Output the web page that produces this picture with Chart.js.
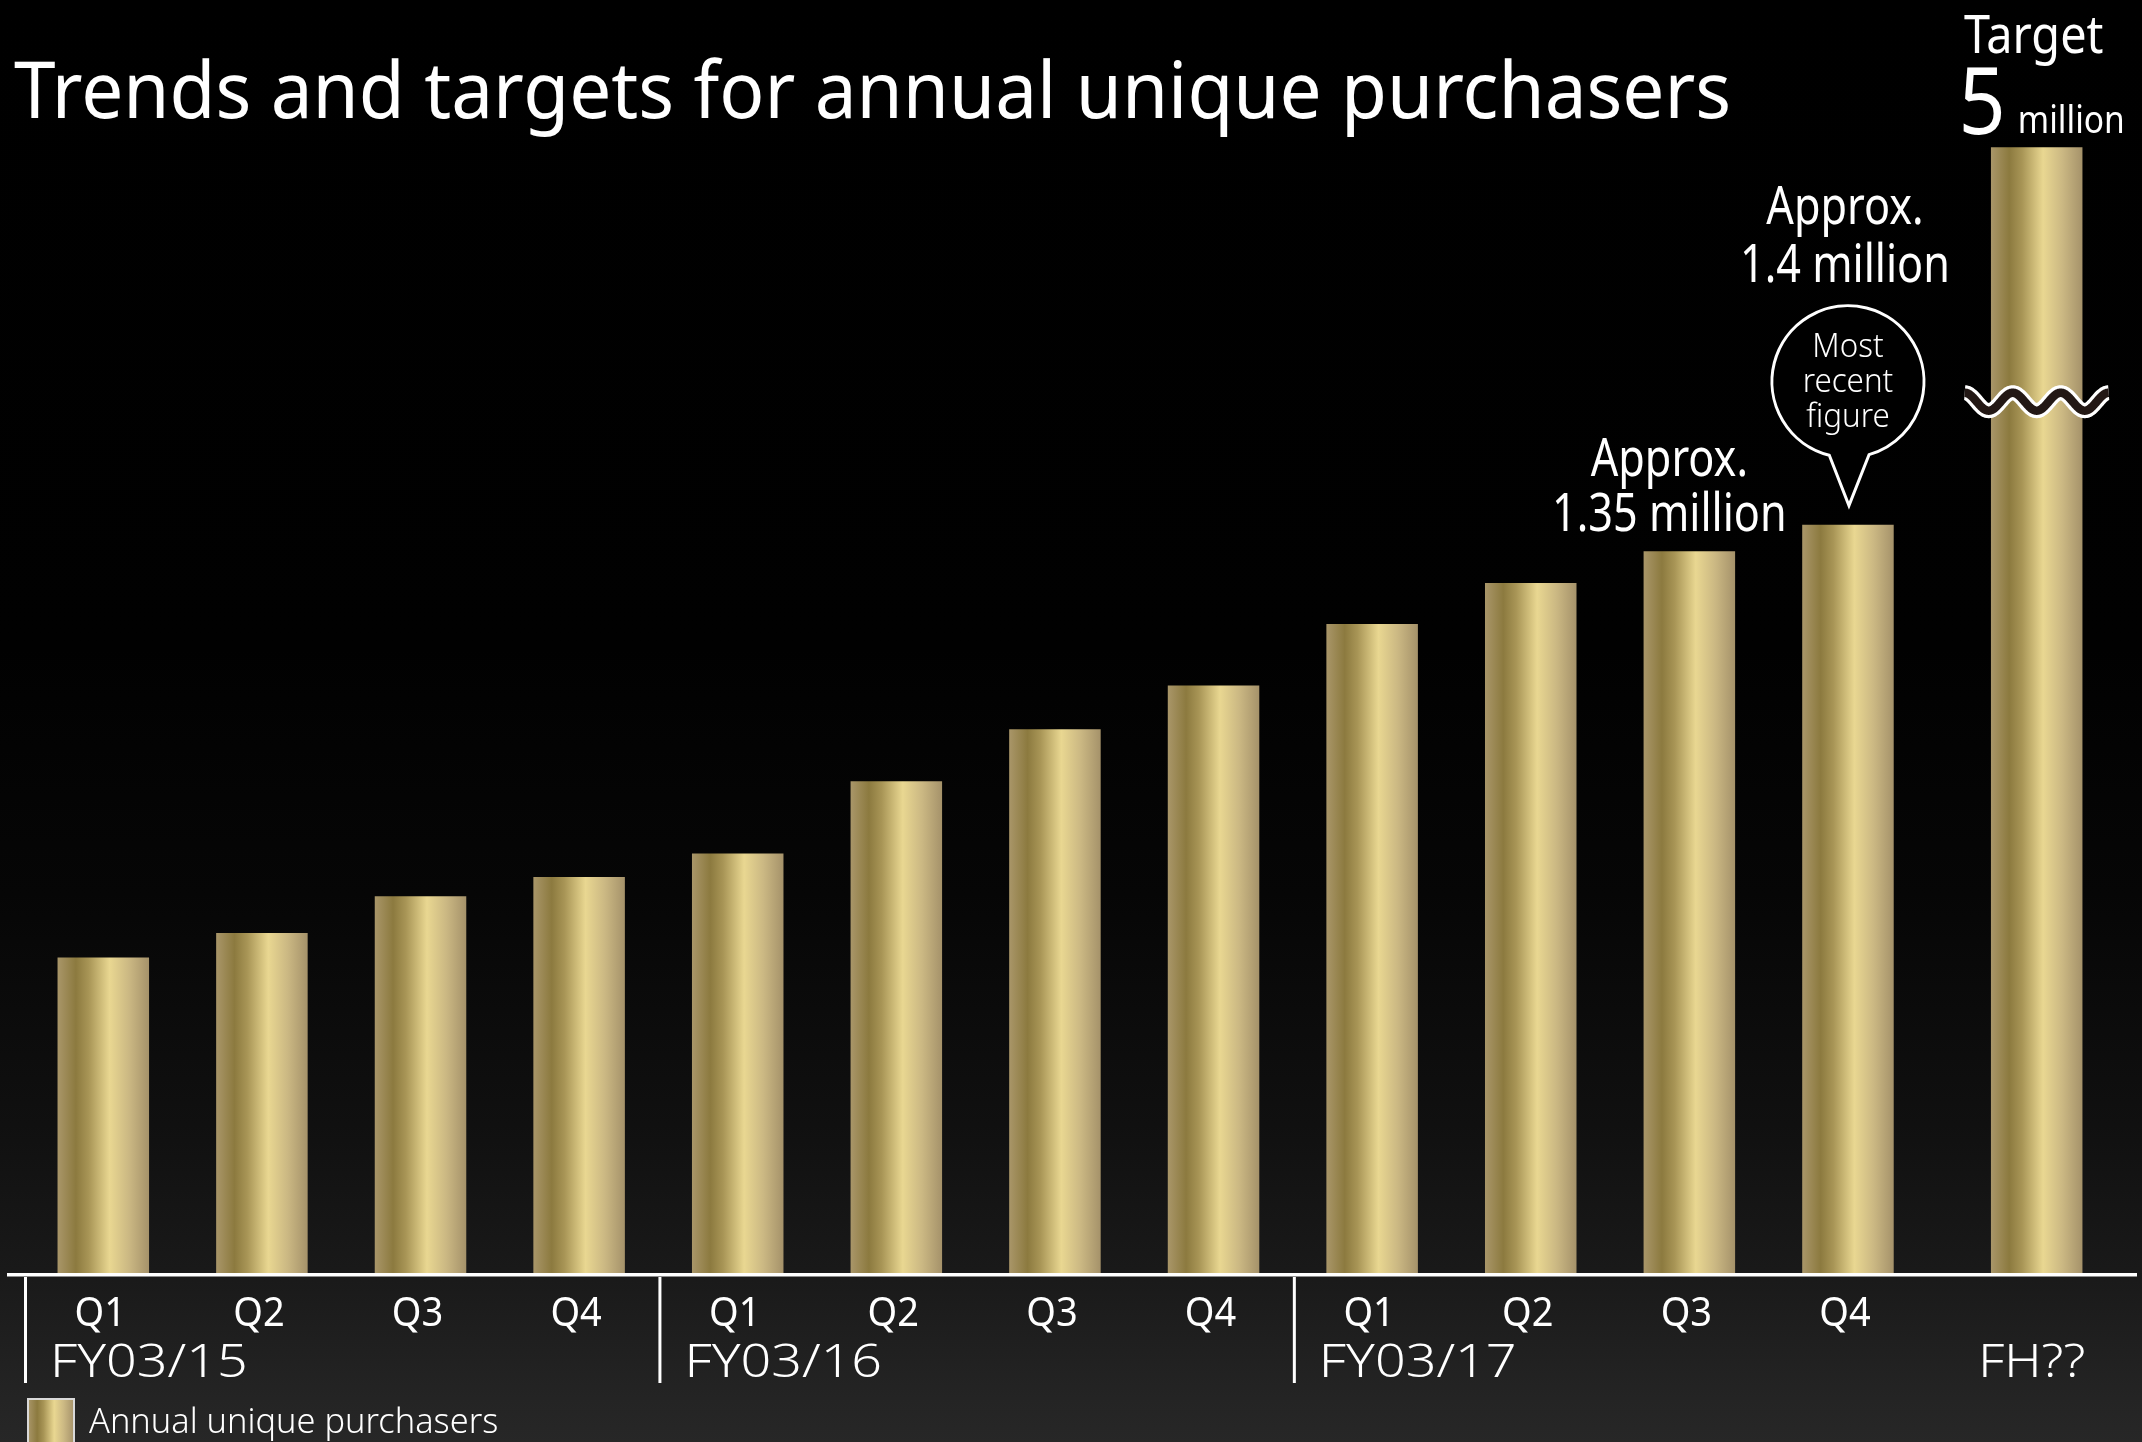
<!DOCTYPE html>
<html>
<head>
<meta charset="utf-8">
<title>Annual unique purchasers</title>
<script src="https://cdn.jsdelivr.net/npm/chart.js@4.4.1/dist/chart.umd.min.js"></script>
<style>
  html, body { margin: 0; padding: 0; background: #000; overflow: hidden; }
  #wrap { width: 2142px; height: 1442px; position: relative; }
  canvas { display: block; }
</style>
</head>
<body>
<div id="wrap"><canvas id="chart" width="2142" height="1442"></canvas></div>
<script>
// ---- data -------------------------------------------------------------
const titleText = 'Trends and targets for annual unique purchasers';
const seriesName = 'Annual unique purchasers';
const quarterLabels = ['Q1', 'Q2', 'Q3', 'Q4', 'Q1', 'Q2', 'Q3', 'Q4', 'Q1', 'Q2', 'Q3', 'Q4'];
const fiscalYears = ['FY03/15', 'FY03/16', 'FY03/17'];
const fiscalYearFirstQuarter = [0, 4, 8];
const targetPeriod = 'FH??';
// annual unique purchasers, in millions
const quarterlyPurchasers = [0.59, 0.636, 0.705, 0.741, 0.785, 0.92, 1.017, 1.099, 1.214, 1.291, 1.35, 1.4];
const targetPurchasers = 5;
const callout135 = ['Approx.', '1.35 million'];
const callout140 = ['Approx.', '1.4 million'];
const bubbleLines = ['Most', 'recent', 'figure'];
const targetHead = 'Target';
const targetNumber = '5';
const targetUnit = 'million';

// ---- styling / layout ---------------------------------------------------
const FONT = '"Noto Sans", "Open Sans", sans-serif';
const BAR_PCT = 0.577;
const TARGET_GAP = 0.19;            // extra space (in categories) before the target bar
const AXIS_BREAK = { at: 1.63, squeeze: 0.1412 };   // value where the axis is broken, compression above it
const GOLD_STOPS = [[0, '#a99669'], [0.2, '#8c7a3f'], [0.34, '#a89556'], [0.57, '#e9d791'], [0.78, '#cbb883'], [1, '#a5926a']];

function foldValue(v) {
  return v <= AXIS_BREAK.at ? v : AXIS_BREAK.at + (v - AXIS_BREAK.at) * AXIS_BREAK.squeeze;
}

// value axis with a break: everything above AXIS_BREAK.at is compressed
class BrokenLinearScale extends Chart.LinearScale {
  static id = 'brokenLinear';
  getPixelForValue(value) {
    return super.getPixelForValue(value === null || value === undefined ? value : foldValue(value));
  }
}

// category axis that leaves a little extra room before the last (target) category
class GappedCategoryScale extends Chart.CategoryScale {
  static id = 'gappedCategory';
  buildTicks() {
    const ticks = super.buildTicks();
    this._valueRange += TARGET_GAP;
    return ticks;
  }
  getPixelForValue(value) {
    if (typeof value !== 'number') value = this.parse(value);
    if (value === null || value === undefined) return NaN;
    const lastIndex = this.getLabels().length - 1;
    const shifted = value >= lastIndex ? value + TARGET_GAP : value;
    return this.getPixelForDecimal((shifted - this._startValue) / this._valueRange);
  }
}
Chart.register(BrokenLinearScale, GappedCategoryScale);

function goldGradient(ctx, x0, x1) {
  const g = ctx.createLinearGradient(x0, 0, x1, 0);
  GOLD_STOPS.forEach(([o, c]) => g.addColorStop(o, c));
  return g;
}

function drawText(ctx, str, x, y, opts) {
  const { size, weight = 400, align = 'left', stretch = 1, color = '#ffffff' } = opts;
  ctx.save();
  ctx.font = `${weight} ${size}px ${FONT}`;
  ctx.textAlign = align;
  ctx.textBaseline = 'alphabetic';
  ctx.fillStyle = color;
  ctx.translate(x, y);
  ctx.scale(stretch, 1);
  ctx.fillText(str, 0, 0);
  ctx.restore();
}

function textWidth(ctx, str, size, weight, stretch) {
  ctx.save();
  ctx.font = `${weight} ${size}px ${FONT}`;
  const w = ctx.measureText(str).width * stretch;
  ctx.restore();
  return w;
}

const backdrop = {
  id: 'backdrop',
  beforeDraw(chart) {
    const { ctx, width, height } = chart;
    const g = ctx.createLinearGradient(0, 0, 0, height);
    [[0, '#000000'], [0.45, '#010101'], [0.62, '#060606'], [0.78, '#101010'],
     [0.88, '#191919'], [0.97, '#242424'], [1, '#272727']].forEach(([o, c]) => g.addColorStop(o, c));
    ctx.save();
    ctx.fillStyle = g;
    ctx.fillRect(0, 0, width, height);
    ctx.restore();
  }
};

function drawBreakWave(ctx, cx, cy) {
  const half = 72, period = 48, amp = 9;
  ctx.save();
  ctx.beginPath();
  for (let dx = -half; dx <= half; dx += 1) {
    const y = cy - amp * Math.cos(2 * Math.PI * (dx + half) / period);
    if (dx === -half) ctx.moveTo(cx + dx, y); else ctx.lineTo(cx + dx, y);
  }
  ctx.lineCap = 'butt';
  ctx.lineJoin = 'round';
  ctx.strokeStyle = '#ffffff';
  ctx.lineWidth = 15;
  ctx.stroke();
  ctx.strokeStyle = '#231815';
  ctx.lineWidth = 8.5;
  ctx.stroke();
  ctx.restore();
}

function drawBubble(ctx, cx, tipY, lines) {
  const r = 76;
  const cy = tipY - 124;
  const aLeft = Math.atan2(73, -18.5);
  const aRight = Math.atan2(71, 20.5);
  ctx.save();
  ctx.beginPath();
  ctx.arc(cx, cy, r, aLeft, aRight, false);
  ctx.lineTo(cx + 1, tipY);
  ctx.closePath();
  ctx.fillStyle = '#000000';
  ctx.fill();
  ctx.strokeStyle = '#ffffff';
  ctx.lineWidth = 3;
  ctx.lineJoin = 'miter';
  ctx.stroke();
  ctx.restore();
  const baselines = [cy - 25, cy + 10, cy + 45];
  lines.forEach((l, i) => drawText(ctx, l, cx, baselines[i], { size: 33, weight: 300, align: 'center', stretch: 0.95 }));
  return cy - r;
}

const decorations = {
  id: 'decorations',
  afterDatasetsDraw(chart) {
    const { ctx } = chart;
    const xs = chart.scales.x, ys = chart.scales.y;
    const zeroY = ys.getPixelForValue(0);
    const lastIdx = chart.data.labels.length - 1;
    const barCenter = i => xs.getPixelForValue(i);
    const barTop = i => ys.getPixelForValue(chart.data.datasets[0].data[i]);

    // axis break on the target bar
    drawBreakWave(ctx, barCenter(lastIdx), ys.getPixelForValue(AXIS_BREAK.at));

    // baseline
    ctx.save();
    ctx.fillStyle = '#ffffff';
    ctx.fillRect(7, zeroY, 2130, 3.5);

    // fiscal-year separators
    fiscalYearFirstQuarter.forEach(q => {
      const x = xs.getPixelForValue(q - 0.5) + 1.5;
      ctx.fillRect(x - 1.5, zeroY + 4, 3, 106);
    });
    ctx.restore();

    // quarter labels
    quarterLabels.forEach((q, i) => drawText(ctx, q, barCenter(i) - 3, zeroY + 53, { size: 40, align: 'center', stretch: 0.95 }));
    // fiscal-year labels
    fiscalYears.forEach((fy, k) => {
      const x = xs.getPixelForValue(fiscalYearFirstQuarter[k] - 0.5) + 26;
      drawText(ctx, fy, x, zeroY + 104, { size: 46, weight: 300, stretch: 1.17 });
    });
    drawText(ctx, targetPeriod, barCenter(lastIdx) - 5, zeroY + 104, { size: 46, weight: 300, align: 'center', stretch: 1.12 });

    // legend
    ctx.save();
    const sx = 28, sy = zeroY + 126, sw = 46, sh = 70;
    ctx.fillStyle = goldGradient(ctx, sx, sx + sw);
    ctx.fillRect(sx, sy, sw, sh);
    ctx.strokeStyle = '#d9d9d9';
    ctx.lineWidth = 2;
    ctx.strokeRect(sx, sy, sw, sh);
    ctx.restore();
    drawText(ctx, seriesName, 89, zeroY + 160, { size: 34, weight: 300, stretch: 1.01 });

    // title
    drawText(ctx, titleText, 14, 118, { size: 78, stretch: 0.958 });

    // callout: Q3 FY03/17
    const c11 = lastIdx - 2;
    const c11x = barCenter(c11) - 20;
    const c11y = barTop(c11) - 20;
    drawText(ctx, callout135[0], c11x, c11y - 55, { size: 52, align: 'center', stretch: 0.83 });
    drawText(ctx, callout135[1], c11x, c11y, { size: 52, align: 'center', stretch: 0.83 });

    // callout: Q4 FY03/17 with bubble
    const c12 = lastIdx - 1;
    const bubbleTop = drawBubble(ctx, barCenter(c12), barTop(c12) - 19, bubbleLines);
    drawText(ctx, callout140[0], barCenter(c12) - 3, bubbleTop - 82, { size: 52, align: 'center', stretch: 0.83 });
    drawText(ctx, callout140[1], barCenter(c12) - 3, bubbleTop - 24, { size: 52, align: 'center', stretch: 0.83 });

    // target heading
    const tx = barCenter(lastIdx);
    const tTop = barTop(lastIdx);
    drawText(ctx, targetHead, tx - 3, tTop - 94, { size: 52, align: 'center', stretch: 0.9 });
    const w5 = textWidth(ctx, targetNumber, 94, 400, 0.88);
    const wm = textWidth(ctx, targetUnit, 39, 400, 0.86);
    const gap = 12;
    const start = tx + 5 - (w5 + gap + wm) / 2;
    drawText(ctx, targetNumber, start, tTop - 13, { size: 94, stretch: 0.88 });
    drawText(ctx, targetUnit, start + w5 + gap, tTop - 14, { size: 39, stretch: 0.86 });
  }
};

function buildChart() {
  const ctx = document.getElementById('chart').getContext('2d');
  new Chart(ctx, {
    type: 'bar',
    data: {
      labels: [...quarterLabels, targetPeriod],
      datasets: [{
        label: seriesName,
        data: [...quarterlyPurchasers, targetPurchasers],
        backgroundColor(context) {
          const chart = context.chart;
          const xs = chart.scales && chart.scales.x;
          if (!xs || !chart.chartArea || context.dataIndex === undefined) return '#c8b47a';
          const cx = xs.getPixelForValue(context.dataIndex);
          const w = (xs.getPixelForValue(1) - xs.getPixelForValue(0)) * BAR_PCT;
          return goldGradient(chart.ctx, cx - w / 2, cx + w / 2);
        },
        borderWidth: 0,
        categoryPercentage: 1,
        barPercentage: BAR_PCT
      }]
    },
    options: {
      responsive: false,
      devicePixelRatio: 1,
      animation: false,
      events: [],
      layout: { padding: { left: 24, right: 26, top: 97, bottom: 169 } },
      scales: {
        x: { type: 'gappedCategory', display: false, offset: true },
        y: { type: 'brokenLinear', display: false, min: 0, max: 2.2 }
      },
      plugins: {
        legend: { display: false },
        tooltip: { enabled: false },
        title: { display: false }
      }
    },
    plugins: [backdrop, decorations]
  });
}

const fontLoads = ['400 40px "Noto Sans"', '300 40px "Noto Sans"'].map(f => document.fonts.load(f).catch(() => null));
Promise.all(fontLoads).then(buildChart, buildChart);
</script>
</body>
</html>
